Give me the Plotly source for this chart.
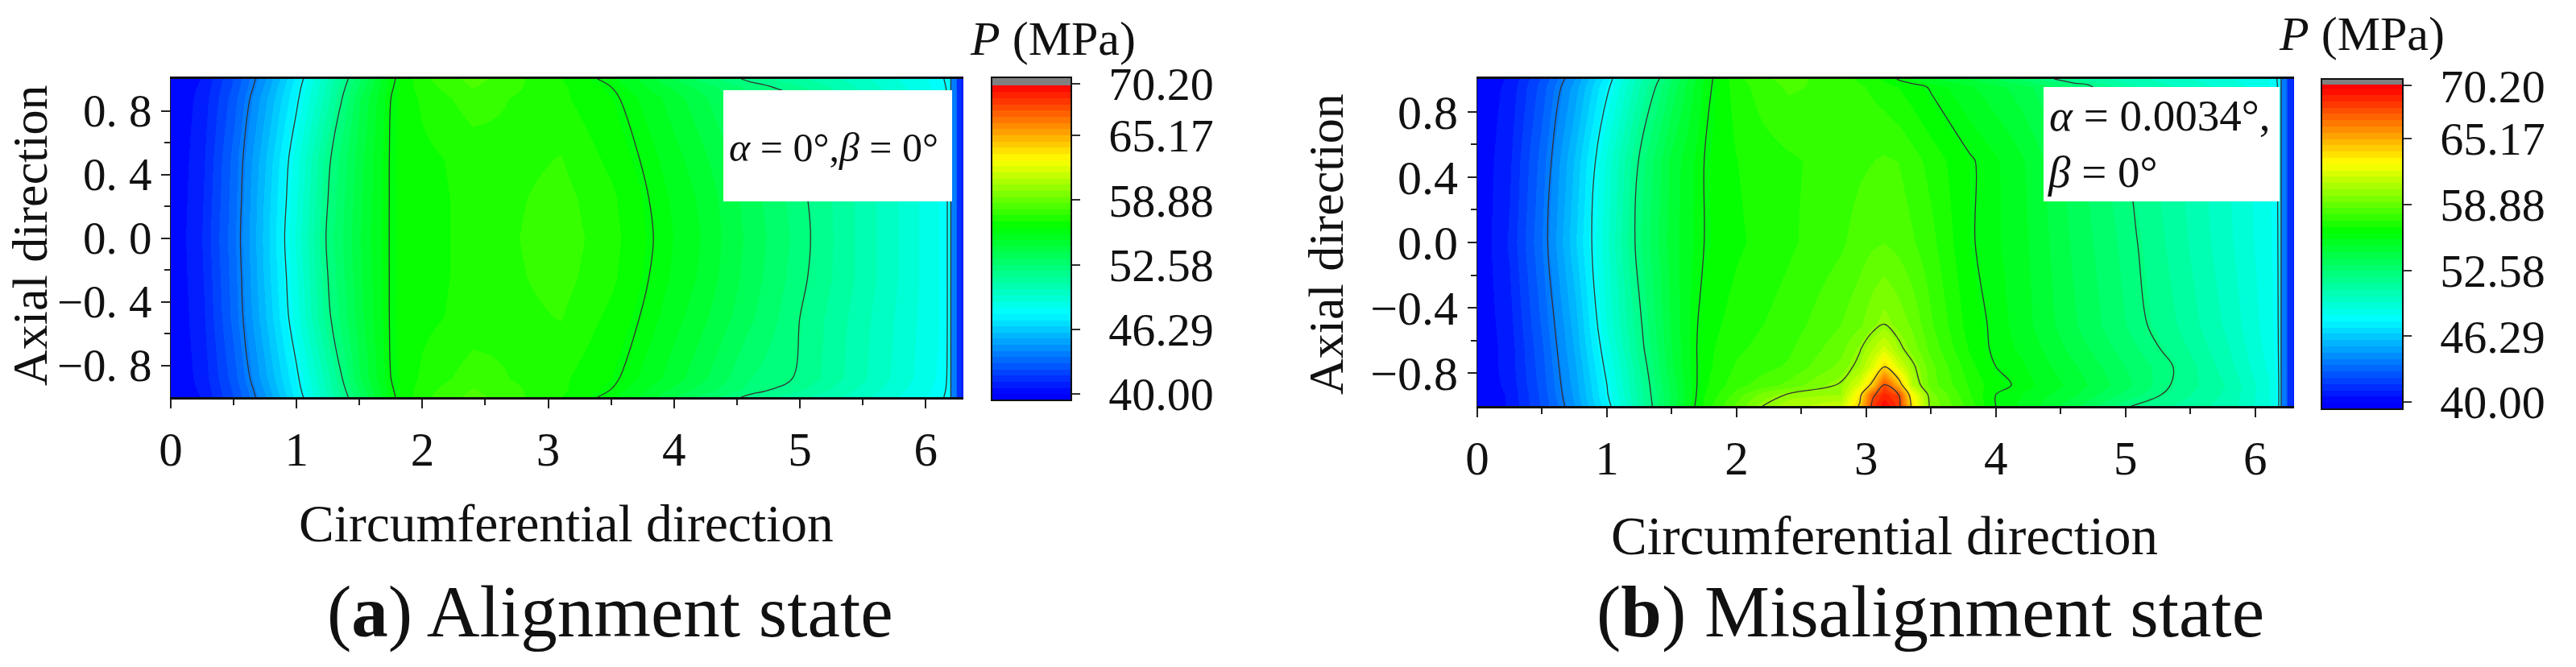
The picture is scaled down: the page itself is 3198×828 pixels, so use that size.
import plotly.graph_objects as go

W, H = 3198, 828

# ---------- data ----------
xs_a = [0, .25, .5, .75, 1, 1.25, 1.5, 1.75, 2, 2.4, 3.1, 3.5, 3.8, 4.2, 4.6, 5, 5.4, 5.8, 6.1, 6.19, 6.2, 6.24, 6.25, 6.3]
ys_a = [-1, -.95, -.88, -.5, -.25, 0, .25, .5, .88, .95, 1]
a_y100 = [40, 40.6, 42.4, 44.7, 47.4, 50.2, 53.0, 55.8, 57.2, 58.2, 56.8, 55.7, 54.6, 53.0, 51.8, 50.9, 50.0, 48.9, 48.1, 47.9, 44, 43.5, 41.5, 41]
a_y95 = [40, 40.7, 42.5, 44.9, 47.6, 50.4, 53.3, 55.9, 57.1, 58.0, 56.9, 56.0, 54.9, 53.6, 52.4, 51.5, 50.3, 49.1, 48.2, 47.9, 44, 43.5, 41.5, 41]
a_y88 = [40, 40.8, 42.7, 45.2, 47.8, 50.6, 53.7, 56.0, 56.9, 57.7, 56.9, 56.2, 55.3, 54.0, 52.6, 51.9, 50.6, 49.3, 48.3, 47.9, 44, 43.5, 41.5, 41]
a_y50 = [40, 41.0, 43.2, 45.9, 48.7, 51.8, 54.1, 56.1, 56.6, 57.0, 57.4, 56.6, 55.8, 54.6, 53.3, 52.0, 50.7, 49.4, 48.4, 47.9, 44, 43.5, 41.5, 41]
a_y25 = [40, 41.1, 43.3, 46.1, 48.9, 52.0, 54.2, 56.1, 56.5, 57.0, 57.6, 56.9, 56.0, 54.9, 53.5, 52.2, 50.9, 49.5, 48.4, 47.9, 44, 43.5, 41.5, 41]
a_y00 = [40, 41.2, 43.4, 46.2, 49.1, 52.2, 54.3, 56.1, 56.5, 57.0, 57.7, 57.0, 56.1, 55.0, 53.6, 52.3, 50.9, 49.5, 48.4, 47.9, 44, 43.5, 41.5, 41]
z_a = [a_y100, a_y95, a_y88, a_y50, a_y25, a_y00, a_y25, a_y50, a_y88, a_y95, a_y100]

xs_b = [0, .25, .5, .75, 1, 1.25, 1.5, 1.75, 2, 2.2, 2.4, 2.8, 2.95, 3.05, 3.14, 3.25, 3.35, 3.5, 3.8, 4, 4.2, 4.6, 5, 5.4, 5.8, 6.1, 6.19, 6.2, 6.24, 6.25, 6.3]
ys_b = [-1, -.93, -.87, -.76, -.65, -.5, 0, .5, .95, 1]
b_m100 = [40, 40.6, 42.4, 44.7, 47.6, 50.8, 53.8, 56.9, 58.7, 60.0, 60.6, 61.5, 64.2, 68.5, 69.8, 68.5, 63.8, 59.6, 57.6, 56.0, 55.4, 53.9, 52.1, 51.2, 50.4, 49.0, 47.9, 44, 43.5, 41.5, 41]
b_m93 = [40, 40.6, 42.5, 44.9, 47.9, 51.0, 53.8, 56.7, 58.2, 59.4, 60.1, 60.3, 63.5, 67.7, 69.0, 68.0, 63.0, 59.4, 57.3, 56.0, 55.5, 54.4, 52.9, 51.6, 50.5, 49.0, 47.9, 44, 43.5, 41.5, 41]
b_m87 = [40, 40.7, 42.6, 45.0, 48.0, 51.1, 53.9, 56.6, 57.7, 58.2, 58.7, 60.1, 62.0, 64.5, 68.0, 65.0, 61.0, 58.8, 57.2, 56.3, 55.8, 54.7, 53.3, 51.8, 50.6, 49.0, 47.9, 44, 43.5, 41.5, 41]
b_m76 = [40, 40.8, 42.7, 45.2, 48.3, 51.3, 54.2, 56.5, 57.4, 57.7, 58.0, 59.3, 60.4, 62.0, 64.0, 61.8, 60.3, 58.7, 56.9, 56.0, 55.6, 54.4, 53.1, 51.9, 50.3, 48.8, 47.9, 44, 43.5, 41.5, 41]
b_m65 = [40, 40.8, 42.8, 45.4, 48.6, 51.6, 54.3, 56.5, 57.2, 57.5, 57.8, 58.9, 59.9, 60.9, 61.8, 60.3, 59.5, 58.3, 56.6, 55.8, 55.4, 54.1, 52.8, 51.6, 50.1, 48.7, 47.9, 44, 43.5, 41.5, 41]
b_m50 = [40, 40.9, 43.0, 45.6, 49.0, 51.8, 54.4, 56.4, 57.0, 57.3, 57.6, 58.5, 59.0, 59.6, 60.0, 59.5, 59.0, 58.0, 56.4, 55.8, 55.2, 53.8, 52.5, 51.3, 49.9, 48.6, 47.9, 44, 43.5, 41.5, 41]
b_p00 = [40, 41.2, 43.5, 46.4, 49.4, 52.4, 54.6, 56.0, 56.6, 56.9, 57.2, 57.8, 58.2, 58.4, 58.5, 58.3, 58.0, 57.5, 56.1, 55.6, 55.1, 53.6, 52.3, 51.0, 49.6, 48.5, 47.9, 44, 43.5, 41.5, 41]
b_p50 = [40, 41.0, 43.2, 46.0, 49.1, 52.1, 54.5, 56.0, 56.7, 57.0, 57.2, 57.6, 57.8, 57.9, 58.0, 57.9, 57.6, 57.1, 56.1, 55.6, 55.0, 53.4, 52.0, 50.8, 49.5, 48.4, 47.9, 44, 43.5, 41.5, 41]
b_p95 = [40, 40.7, 42.6, 45.0, 47.8, 50.7, 53.3, 55.7, 57.0, 57.6, 58.0, 57.7, 57.4, 57.2, 57.0, 56.7, 56.4, 55.9, 55.0, 54.5, 54.0, 52.6, 51.0, 50.1, 49.3, 48.4, 47.9, 44, 43.5, 41.5, 41]
b_p100 = [40, 40.6, 42.4, 44.7, 47.5, 50.4, 53.0, 55.6, 57.1, 57.8, 58.1, 57.6, 57.2, 56.9, 56.6, 55.9, 55.5, 55.0, 54.3, 53.7, 53.0, 51.4, 50.4, 49.7, 49.0, 48.3, 47.9, 44, 43.5, 41.5, 41]
z_b = [b_m100, b_m93, b_m87, b_m76, b_m65, b_m50, b_p00, b_p50, b_p95, b_p100]

cbar_ticks = [40.00, 46.29, 52.58, 58.88, 65.17, 70.20]
cbar_text = ["\u00a0\u200640.00", "\u00a0\u200646.29", "\u00a0\u200652.58", "\u00a0\u200658.88", "\u00a0\u200665.17", "\u00a0\u200670.20"]
xticks = [0, 1, 2, 3, 4, 5, 6]
xminor = [.5, 1.5, 2.5, 3.5, 4.5, 5.5]
yticks = [-.8, -.4, 0, .4, .8]
yminor = [-.6, -.2, .2, .6]
yticktext_a = ["\u22120. 8", "\u22120. 4", "0. 0", "0. 4", "0. 8"]
yticktext_b = ["\u22120.8", "\u22120.4", "0.0", "0.4", "0.8"]
xtitle = "Circumferential direction"
ytitle = "Axial direction"
cbar_title = "<i>P</i> (MPa)"
caption_a = "(<b>a</b>) Alignment state"
caption_b = "(<b>b</b>) Misalignment state"

# ---------- colour map: stepped rainbow with grey overflow band ----------
anchors = [(40, (0, 0, 255)), (47.9, (0, 255, 255)), (56.3, (0, 255, 0)), (62.8, (255, 255, 0)), (70, (255, 0, 0))]


def rainbow(v):
    for (v0, c0), (v1, c1) in zip(anchors, anchors[1:]):
        if v <= v1:
            t = max(0, (v - v0) / (v1 - v0))
            return "rgb(%d,%d,%d)" % tuple(round(a + (b - a) * t) for a, b in zip(c0, c1))
    return "rgb(255,0,0)"


def stepped_scale(zmin, zmax, grey_from, step=0.6):
    out = []
    lo = zmin
    while lo < grey_from - 1e-6:
        hi = min(lo + step, grey_from)
        col = rainbow((lo + hi) / 2)
        out += [[(lo - zmin) / (zmax - zmin), col], [(hi - zmin) / (zmax - zmin), col]]
        lo = hi
    g = "rgb(128,128,128)"
    out += [[(grey_from - zmin) / (zmax - zmin), g], [1, g]]
    return out


SERIF = "Liberation Serif"
INK = "#111111"
fig = go.Figure()


def panel(idx, xs, ys, z, box, cb, yticktext, ylabel_size, xrange_max):
    left, right, top, bottom = box
    cb_left, cb_right, cb_top, cb_bottom, zmin, zmax, grey = cb
    sfx = "" if idx == 1 else str(idx)
    fig.add_trace(go.Heatmap(
        x=xs, y=ys, z=z, zsmooth="best", zmin=zmin, zmax=zmax,
        colorscale=stepped_scale(zmin, zmax, grey), xaxis="x" + sfx, yaxis="y" + sfx,
        hoverinfo="skip",
        colorbar=dict(
            x=cb_left / W, xanchor="left", y=1 - cb_top / H, yanchor="top",
            thickness=cb_right - cb_left, thicknessmode="pixels",
            len=cb_bottom - cb_top, lenmode="pixels", xpad=0, ypad=0,
            outlinecolor=INK, outlinewidth=2, tickvals=cbar_ticks, ticktext=cbar_text,
            ticks="outside", ticklen=10, tickwidth=2, tickcolor="#333333",
            tickfont=dict(family=SERIF, size=58, color=INK), ticklabelposition="outside",
        ),
    ))
    fig.add_trace(go.Contour(
        x=xs, y=ys, z=z, showscale=False, xaxis="x" + sfx, yaxis="y" + sfx, hoverinfo="skip",
        autocontour=False, contours=dict(start=44, end=68, size=4, coloring="lines"),
        colorscale=[[0, "#333333"], [1, "#333333"]],
        line=dict(width=1.3, color="#333333", smoothing=1),
    ))
    axis_font = dict(family=SERIF, size=59, color=INK)
    fig.update_layout({
        "xaxis" + sfx: dict(
            domain=[left / W, right / W], range=[0, xrange_max], anchor="y" + sfx,
            tickvals=xticks, ticks="outside", ticklen=11, tickwidth=2, tickcolor="#222222",
            minor=dict(tickvals=xminor, ticks="outside", ticklen=7, tickwidth=2, tickcolor="#222222"),
            showgrid=False, zeroline=False, showline=True, linecolor=INK, linewidth=3, mirror=True,
            tickfont=axis_font,
        ),
        "yaxis" + sfx: dict(
            domain=[1 - bottom / H, 1 - top / H], range=[-1, 1], anchor="x" + sfx,
            tickvals=yticks, ticktext=yticktext, ticks="outside", ticklen=11, tickwidth=2, tickcolor="#222222",
            minor=dict(tickvals=yminor, ticks="outside", ticklen=7, tickwidth=2, tickcolor="#222222"),
            showgrid=False, zeroline=False, showline=True, linecolor="#222222", linewidth=1,
            tickfont=dict(family=SERIF, size=ylabel_size, color=INK),
        ),
    })


panel(1, xs_a, ys_a, z_a, (212, 1196, 98, 493), (1231, 1330, 96, 497, 39.37, 70.82, 70.04), yticktext_a, 57, 6.3)
panel(2, xs_b, ys_b, z_b, (1834, 2848, 98, 504), (2882, 2983, 98, 508, 39.31, 70.85, 70.3), yticktext_b, 60, 6.3)

shapes = [
    dict(type="rect", xref="paper", yref="paper", x0=898 / W, x1=1182 / W, y0=1 - 250 / H, y1=1 - 112 / H,
         fillcolor="white", line=dict(width=0), layer="above"),
    dict(type="rect", xref="paper", yref="paper", x0=2537 / W, x1=2830 / W, y0=1 - 250 / H, y1=1 - 108 / H,
         fillcolor="white", line=dict(width=0), layer="above"),
]


def note(text, px, py, size, anchor="center", angle=0):
    return dict(text=text, xref="paper", yref="paper", x=px / W, y=1 - py / H, showarrow=False,
                xanchor=anchor, yanchor="middle", textangle=angle,
                font=dict(family=SERIF, size=size, color=INK))


annotations = [
    note(cbar_title, 1307, 48, 60),
    note(cbar_title, 2932, 42, 60),
    note(xtitle, 703, 650, 65.5),
    note(xtitle, 2339, 665, 67),
    note(ytitle, 37, 292, 62, angle=-90),
    note(ytitle, 1600 + 45 / .98, 303, 62, angle=-90),
    note(caption_a, 757, 759, 91),
    note(caption_b, 2396, 759, 91),
    note("<i>\u03b1</i> = 0\u00b0,<i>\u03b2</i> = 0\u00b0", 903, 183, 50, anchor="left"),
    note("<i>\u03b1</i> = 0.0034\u00b0,", 2542, 143, 55, anchor="left"),
    note("<i>\u03b2</i> = 0\u00b0", 2540, 213, 55, anchor="left"),
]

fig.update_layout(
    width=W, height=H, margin=dict(l=0, r=0, t=0, b=0, autoexpand=False),
    paper_bgcolor="white", plot_bgcolor="white", showlegend=False,
    shapes=shapes, annotations=annotations,
)

fig.write_html("out.html", config={"displayModeBar": False}, post_script="document.body.style.margin='0';")
